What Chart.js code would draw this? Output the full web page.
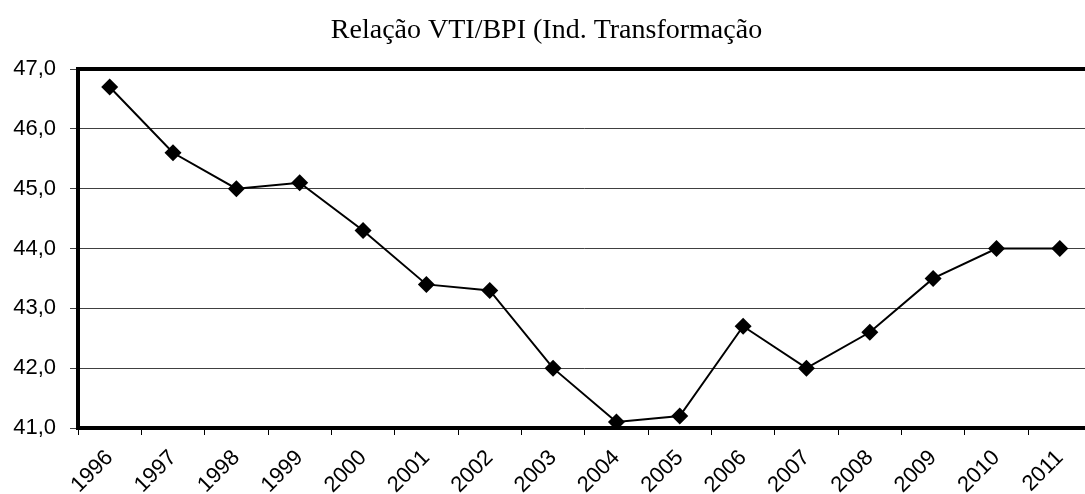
<!DOCTYPE html>
<html>
<head>
<meta charset="utf-8">
<script src="https://cdn.jsdelivr.net/npm/chart.js@4"></script>
<style>
html,body{margin:0;padding:0;background:#fff;overflow:hidden;}
#wrap{width:1100px;height:494px;}
</style>
</head>
<body>
<div id="wrap"><canvas id="c" width="1100" height="494"></canvas></div>
<script>
const years = ["1996","1997","1998","1999","2000","2001","2002","2003","2004","2005","2006","2007","2008","2009","2010","2011"];
const ratio = [46.7,45.6,45.0,45.1,44.3,43.4,43.3,42.0,41.1,41.2,42.7,42.0,42.6,43.5,44.0,44.0];
const yMin = 41, yMax = 47, yStep = 1;
const titleText = "Relação VTI/BPI (Ind. Transformação";

const frame = {
  id:'frame',
  beforeDatasetsDraw(chart){
    const a = chart.chartArea, ctx = chart.ctx;
    ctx.save();
    ctx.strokeStyle = '#000';
    ctx.lineWidth = 4;
    ctx.strokeRect(a.left, a.top, a.right - a.left, a.bottom - a.top);
    ctx.restore();
  }
};

new Chart(document.getElementById('c'), {
  type:'line',
  data:{
    labels: years,
    datasets:[{
      data: ratio,
      borderColor:'#000',
      borderWidth:2,
      backgroundColor:'#000',
      pointStyle:'rectRot',
      pointRadius:8.5,
      pointHoverRadius:8.5,
      pointBorderWidth:0,
      tension:0,
      fill:false
    }]
  },
  options:{
    responsive:false,
    animation:false,
    layout:{padding:{left:0,right:7,top:0,bottom:0}},
    plugins:{
      legend:{display:false},
      tooltip:{enabled:false},
      title:{
        display:true,
        text:titleText,
        color:'#000',
        font:{family:'"Liberation Serif","Times New Roman",serif',size:28,weight:'normal'},
        padding:{top:14,bottom:21.4}
      }
    },
    scales:{
      x:{
        offset:true,
        grid:{offset:true,drawOnChartArea:false,drawTicks:true,tickLength:7,color:'#000',lineWidth:1},
        border:{display:false},
        ticks:{
          color:'#000',
          font:{family:'"Liberation Sans",Arial,sans-serif',size:22},
          maxRotation:45,minRotation:45,autoSkip:false,padding:10
        },
        afterFit(axis){ axis.height = 66; }
      },
      y:{
        min:yMin,max:yMax,
        grid:{color:'#404040',lineWidth:1,tickLength:8,drawTicks:true},
        border:{display:false},
        ticks:{
          stepSize:yStep,
          color:'#000',
          padding:14,
          font:{family:'"Liberation Sans",Arial,sans-serif',size:22},
          callback:(v)=>Number(v).toFixed(1).replace('.',',')
        },
        afterFit(axis){ axis.width = 78; }
      }
    }
  },
  plugins:[frame]
});
</script>
</body>
</html>
